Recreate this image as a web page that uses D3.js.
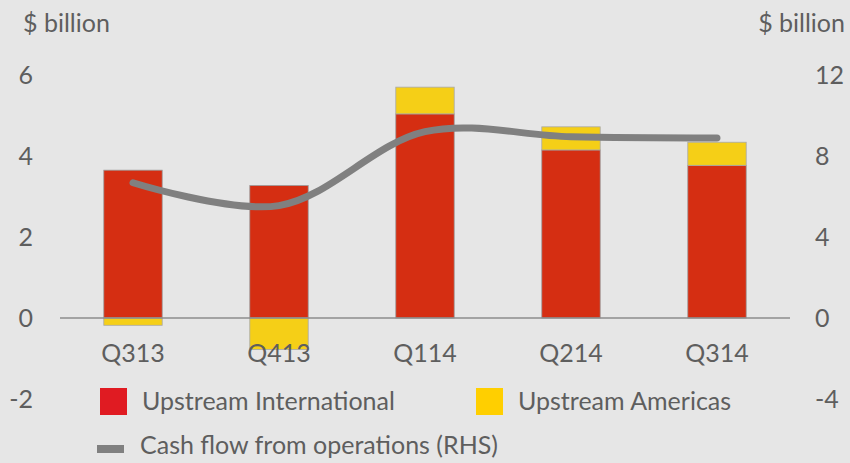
<!DOCTYPE html>
<html><head><meta charset="utf-8">
<script src="https://cdn.jsdelivr.net/npm/d3@7"></script>
<style>
html,body{margin:0;padding:0;background:#e6e6e6;}
svg{display:block;}
text{font-family:'Lato','Noto Sans',sans-serif;fill:#5e5e5e;}
</style></head>
<body><svg id="c" width="850" height="463"></svg>
<script>
const categories = ["Q313","Q413","Q114","Q214","Q314"];
const upstreamInternational = [3.65, 3.27, 5.04, 4.15, 3.77];
const upstreamAmericas = [-0.18, -0.78, 0.66, 0.57, 0.57];
const cashFlowRHS = [6.68, 5.55, 9.2, 8.95, 8.89];
const leftTicks = [-2, 0, 2, 4, 6];
const rightTicks = [-4, 0, 4, 8, 12];

const svg = d3.select("#c");
const W = 850, H = 463;
svg.append("rect").attr("width", W).attr("height", H).attr("fill", "#e6e6e6");

const x = d3.scaleBand().domain(categories).range([60, 790]).paddingInner(0.6).paddingOuter(0.3);
const yL = d3.scaleLinear().domain([-2, 6]).range([399, 75]);
const yR = d3.scaleLinear().domain([-4, 12]).range([399, 75]);

const fs = 25;
// axis labels
svg.append("g").selectAll("text").data(leftTicks).join("text")
  .attr("x", 33).attr("y", d => yL(d)).attr("dy", "0.36em")
  .attr("text-anchor", "end").attr("font-size", fs).text(d => d);
svg.append("g").selectAll("text").data(rightTicks).join("text")
  .attr("x", 815).attr("y", d => yR(d)).attr("dy", "0.36em")
  .attr("text-anchor", "start").attr("font-size", fs).text(d => d);
svg.append("text").attr("x", 23).attr("y", 32).attr("font-size", fs).text("$ billion");
svg.append("text").attr("x", 845).attr("y", 32).attr("text-anchor", "end").attr("font-size", fs).text("$ billion");

// bars
const g = svg.append("g");
g.selectAll("rect.intl").data(categories).join("rect").attr("class", "intl")
  .attr("x", d => x(d)).attr("width", x.bandwidth())
  .attr("y", (d, i) => yL(upstreamInternational[i]))
  .attr("height", (d, i) => yL(0) - yL(upstreamInternational[i]))
  .attr("fill", "#d52e12").attr("stroke", "#9a9a9a").attr("stroke-width", 0.8);
g.selectAll("rect.amer").data(categories).join("rect").attr("class", "amer")
  .attr("x", d => x(d)).attr("width", x.bandwidth())
  .attr("y", (d, i) => upstreamAmericas[i] >= 0 ? yL(upstreamInternational[i] + upstreamAmericas[i]) : yL(0))
  .attr("height", (d, i) => Math.abs(yL(0) - yL(upstreamAmericas[i])))
  .attr("fill", "#f5cf17").attr("stroke", "#a8a8a8").attr("stroke-width", 0.8);

// zero line
svg.append("line").attr("x1", 60).attr("x2", 790).attr("y1", yL(0)).attr("y2", yL(0))
  .attr("stroke", "#8c8c8c").attr("stroke-width", 1.5);

// x labels
svg.append("g").selectAll("text").data(categories).join("text")
  .attr("x", d => x(d) + x.bandwidth() / 2).attr("y", 362)
  .attr("text-anchor", "middle").attr("font-size", fs).text(d => d);

// line
const line = d3.line().x((d, i) => x(categories[i]) + x.bandwidth() / 2).y(d => yR(d))
  .curve(d3.curveCatmullRom.alpha(0.5));
svg.append("path").attr("d", line(cashFlowRHS)).attr("fill", "none")
  .attr("stroke", "#808080").attr("stroke-width", 7).attr("stroke-linecap", "round");

// legend
svg.append("rect").attr("x", 100).attr("y", 388).attr("width", 27).attr("height", 27).attr("fill", "#e01b22");
svg.append("text").attr("x", 142).attr("y", 401).attr("dy", "0.36em").attr("font-size", fs).text("Upstream International");
svg.append("rect").attr("x", 476).attr("y", 388).attr("width", 27).attr("height", 27).attr("fill", "#ffcf00");
svg.append("text").attr("x", 518).attr("y", 401).attr("dy", "0.36em").attr("font-size", fs).text("Upstream Americas");
svg.append("rect").attr("x", 97).attr("y", 445).attr("width", 27).attr("height", 8).attr("fill", "#808080");
svg.append("text").attr("x", 140).attr("y", 445).attr("dy", "0.36em").attr("font-size", fs).text("Cash flow from operations (RHS)");
</script></body></html>
